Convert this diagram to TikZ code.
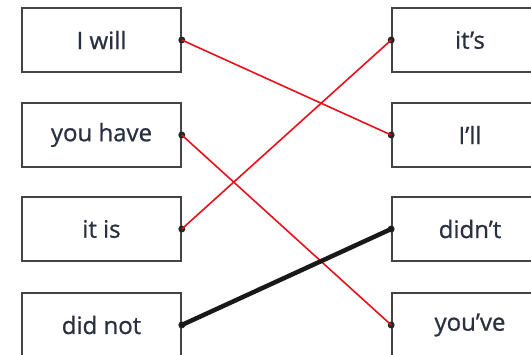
\documentclass[tikz,border=0pt]{standalone}
\usepackage{fontspec}
\setmainfont{Open Sans}
\newfontfamily\wordfont{Open Sans}[BoldFont={Open Sans},BoldFeatures={FakeBold=0.9}]
\definecolor{boxline}{HTML}{444444}
\definecolor{txt}{HTML}{2B3040}
\definecolor{redline}{HTML}{E8101A}
\begin{document}
\begin{tikzpicture}[x=1pt,y=1pt,
  wordbox/.style={draw=boxline,line width=1.6pt,rectangle,inner sep=0pt,
    minimum height=64pt,text=txt,font=\wordfont\bfseries\fontsize{24}{28}\selectfont},
  leftbox/.style={wordbox,minimum width=159pt},
  rightbox/.style={wordbox,minimum width=156pt},
  dot/.style={circle,fill=black!85,inner sep=0pt,minimum size=7pt},
  redlink/.style={draw=redline,line width=1.6pt},
  blacklink/.style={draw=black!90,line width=4.5pt,line cap=round}]
\useasboundingbox (0,0) rectangle (531,-355);
\clip (0,0) rectangle (531,-355);
\node[leftbox] (l1) at (101.5,-40) {I will};
\node[leftbox] (l2) at (101.5,-135) {you have};
\node[leftbox] (l3) at (101.5,-229) {it is};
\node[leftbox] (l4) at (101.5,-325) {did not};
\node[rightbox] (r1) at (470,-40) {it’s};
\node[rightbox] (r2) at (470,-135) {I’ll};
\node[rightbox] (r3) at (470,-229) {didn’t};
\node[rightbox] (r4) at (470,-325) {you’ve};
\node[dot] (dl1) at (l1.east) {};
\node[dot] (dl2) at (l2.east) {};
\node[dot] (dl3) at (l3.east) {};
\node[dot] (dl4) at (l4.east) {};
\node[dot] (dr1) at (r1.west) {};
\node[dot] (dr2) at (r2.west) {};
\node[dot] (dr3) at (r3.west) {};
\node[dot] (dr4) at (r4.west) {};
\draw[redlink] (dl1.center) -- (dr2.center);
\draw[redlink] (dl2.center) -- (dr4.center);
\draw[redlink] (dl3.center) -- (dr1.center);
\draw[blacklink] (dl4.center) -- (dr3.center);
\end{tikzpicture}
\end{document}
